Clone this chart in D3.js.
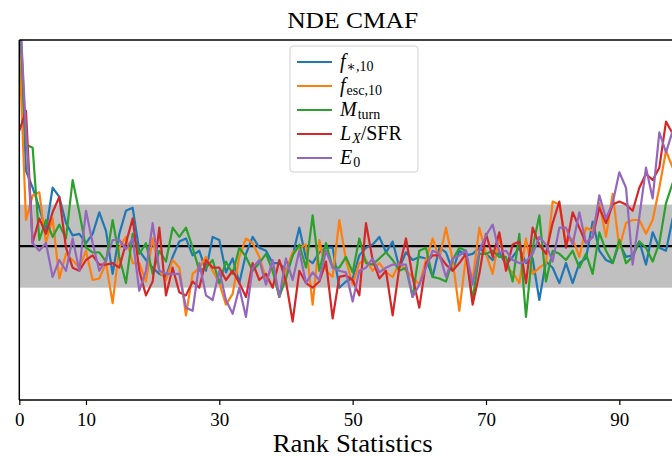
<!DOCTYPE html>
<html>
<head>
<meta charset="utf-8">
<script src="https://cdn.jsdelivr.net/npm/d3@7"></script>
<style>
  html, body { margin: 0; padding: 0; background: #fff; }
  svg { display: block; }
  text { font-family: "Liberation Serif", "DejaVu Serif", serif; fill: #000; }
</style>
</head>
<body>
<svg id="chart" width="672" height="456"></svg>
<script>
// Rank index of each bin
const ranks = d3.range(0, 100);

// Normalised rank-statistic histograms, one per parameter
const fStar = [2.50,1.49,1.38,1.25,1.10,1.38,1.32,1.15,1.07,1.08,1.02,1.08,1.22,1.10,0.82,1.08,1.23,1.25,0.97,0.91,
  0.86,0.82,0.80,0.93,1.03,1.05,0.94,0.97,0.84,1.06,1.04,0.83,0.92,0.76,0.95,1.06,0.99,0.97,0.89,0.89,
  0.84,0.94,1.12,0.92,0.89,0.96,0.99,0.99,0.73,0.77,0.79,0.94,0.99,1.01,1.06,0.96,1.03,0.86,0.96,0.91,
  0.93,0.92,0.80,0.99,0.96,0.84,0.97,0.94,0.95,0.99,0.95,0.91,0.96,0.88,0.93,0.99,0.89,0.92,0.65,0.90,
  0.86,0.76,0.89,0.76,0.89,0.92,1.16,0.97,0.91,0.89,1.02,0.93,0.94,1.03,0.88,1.09,0.99,0.97,1.18,1.25];
const fEsc = [2.30,1.17,1.33,1.35,1.02,1.18,0.79,0.95,0.91,0.86,0.97,0.78,0.79,0.89,0.63,0.99,1.06,0.89,0.89,0.77,
  1.05,0.84,0.78,0.91,0.86,0.55,0.82,0.86,0.93,0.84,0.76,0.62,0.69,0.93,1.05,1.02,0.93,0.79,0.86,0.67,
  0.84,0.96,0.99,1.01,0.62,1.04,0.84,0.80,1.17,0.91,0.75,0.89,0.91,0.84,0.89,0.83,0.80,0.89,0.84,0.80,
  0.75,0.91,1.05,0.92,1.12,0.91,0.58,0.93,0.78,1.12,0.95,0.82,1.06,0.86,0.83,0.76,1.05,0.82,0.86,0.89,
  1.29,1.27,1.03,1.05,0.93,1.12,1.10,1.28,1.06,1.34,0.99,1.15,1.17,1.17,1.08,1.17,1.38,1.62,1.51,1.45];
const mTurn = [2.60,1.66,1.64,1.04,1.17,1.06,1.14,1.05,1.43,1.22,0.99,0.96,0.96,0.90,1.17,0.93,0.76,1.08,0.95,1.02,
  0.82,0.97,0.90,1.12,1.06,1.12,0.99,0.84,0.86,0.91,0.76,0.90,0.82,0.99,0.93,0.84,0.89,0.95,0.84,0.67,
  0.79,0.94,1.01,0.86,1.20,0.84,1.02,0.86,0.86,0.93,0.83,1.05,0.89,0.88,0.92,0.96,0.91,0.84,0.86,0.67,
  0.97,0.99,0.80,0.79,0.77,0.91,0.99,0.97,0.65,0.95,0.95,0.97,0.93,0.93,0.77,1.08,0.54,0.99,1.20,0.77,
  0.97,0.95,0.91,0.97,0.86,0.95,0.82,1.09,0.97,0.89,1.04,0.89,0.93,1.03,0.99,0.90,1.02,1.28,1.41,1.50];
const lxSfr = [1.75,1.88,1.02,1.18,1.08,1.22,1.32,0.99,0.86,0.84,0.91,0.94,0.88,0.88,0.89,0.86,1.02,1.18,0.84,0.68,
  0.77,1.12,0.68,0.86,0.70,0.68,0.77,0.73,0.91,0.86,0.86,0.78,0.84,0.76,0.67,0.89,0.78,0.82,0.73,0.91,
  0.77,0.51,0.84,0.76,0.73,0.77,0.90,0.53,0.80,0.81,0.78,0.68,1.15,0.91,0.79,0.84,0.55,0.86,1.05,0.80,
  0.60,0.89,0.94,0.94,0.88,0.84,0.89,0.95,0.62,0.82,1.08,0.93,1.09,0.84,1.01,1.03,0.76,1.12,1.01,0.95,
  1.15,1.29,0.99,1.22,1.12,1.02,1.06,1.25,1.15,1.27,1.29,1.27,1.23,1.38,1.47,1.43,1.51,1.81,1.73,1.65];
const e0 = [2.60,1.75,1.02,0.97,1.02,0.80,0.91,0.84,1.05,0.84,1.23,1.02,0.84,0.91,1.04,1.04,0.98,1.05,0.71,0.84,
  1.15,0.84,0.82,0.82,0.82,0.60,0.58,0.89,0.68,0.65,0.84,0.65,0.56,0.73,0.54,0.86,0.91,0.75,0.91,0.67,
  0.92,0.78,0.97,0.76,0.83,0.78,0.97,0.86,0.84,0.83,0.64,0.84,0.86,0.92,0.83,0.86,0.88,0.88,0.88,0.67,
  0.75,0.86,0.97,0.95,0.80,0.92,0.94,0.97,0.75,0.97,1.07,1.14,0.96,0.97,0.91,0.89,0.90,0.95,1.06,1.01,
  0.90,1.12,1.12,1.01,1.22,1.02,1.06,1.33,1.18,1.28,1.48,1.38,0.88,1.19,1.51,1.31,1.74,1.61,1.75,1.80];

// Expected (uniform) level and its 1-sigma band
const expected = 1.0;
const bandHalf = 0.27;

const xTicks = [0, 10, 30, 50, 70, 90];
const seriesNames = ["fStar", "fEsc", "mTurn", "lxSfr", "e0"];
const seriesColors = ["#1f77b4", "#ff7f0e", "#2ca02c", "#d62728", "#9467bd"];
const seriesValues = [fStar, fEsc, mTurn, lxSfr, e0];

const svg = d3.select("#chart");
const plotLeft = 19.3, plotTop = 40, plotBottom = 400, plotRight = 686;

const x = d3.scaleLinear().domain([0, 100]).range([plotLeft, plotRight]);
const y = d3.scaleLinear().domain([0, 2.34]).range([plotBottom, plotTop]);

svg.append("defs").append("clipPath").attr("id", "plotArea")
  .append("rect").attr("x", plotLeft).attr("y", plotTop)
  .attr("width", plotRight - plotLeft).attr("height", plotBottom - plotTop);

const plot = svg.append("g").attr("clip-path", "url(#plotArea)");

// 1-sigma band around the expected level
plot.append("rect")
  .attr("x", plotLeft).attr("width", plotRight - plotLeft)
  .attr("y", y(expected + bandHalf))
  .attr("height", y(expected - bandHalf) - y(expected + bandHalf))
  .attr("fill", "#c0c0c0");

// Expected level
plot.append("line")
  .attr("x1", plotLeft).attr("x2", plotRight)
  .attr("y1", y(expected)).attr("y2", y(expected))
  .attr("stroke", "#000").attr("stroke-width", 2.4);

const line = d3.line().x((d, i) => x(ranks[i])).y(d => y(d));

seriesValues.forEach((vals, k) => {
  plot.append("path")
    .datum(vals)
    .attr("class", "series " + seriesNames[k])
    .attr("d", line)
    .attr("fill", "none")
    .attr("stroke", seriesColors[k])
    .attr("stroke-width", 2.2)
    .attr("stroke-linejoin", "round");
});

// Frame
const frame = svg.append("g").attr("stroke", "#000").attr("stroke-width", 1.5).attr("fill", "none");
frame.append("line").attr("x1", plotLeft).attr("x2", plotRight).attr("y1", plotTop).attr("y2", plotTop);
frame.append("line").attr("x1", plotLeft).attr("x2", plotLeft).attr("y1", plotTop).attr("y2", plotBottom);
frame.append("line").attr("x1", plotLeft).attr("x2", plotRight).attr("y1", plotBottom).attr("y2", plotBottom);

// X axis
const xAxis = d3.axisBottom(x).tickValues(xTicks).tickSize(5).tickPadding(8).tickFormat(d3.format("d"));
const gx = svg.append("g").attr("transform", `translate(0,${plotBottom})`).call(xAxis);
gx.select(".domain").remove();
gx.selectAll(".tick line").attr("stroke", "#000").attr("stroke-width", 1.2);
gx.selectAll(".tick text")
  .style("font-family", '"Liberation Serif", serif')
  .style("font-size", "19px").attr("fill", "#000");

// Axis label and title
svg.append("text")
  .attr("x", x(50)).attr("y", 452)
  .attr("text-anchor", "middle")
  .attr("textLength", 160).attr("lengthAdjust", "spacingAndGlyphs")
  .style("font-size", "25px")
  .text("Rank Statistics");

svg.append("text")
  .attr("x", x(50)).attr("y", 28)
  .attr("text-anchor", "middle")
  .attr("textLength", 131).attr("lengthAdjust", "spacingAndGlyphs")
  .style("font-size", "24px")
  .text("NDE CMAF");

// Legend
const legend = svg.append("g").attr("transform", "translate(290,46)");
legend.append("rect")
  .attr("x", 0).attr("y", 0).attr("width", 128).attr("height", 126)
  .attr("rx", 3).attr("ry", 3)
  .attr("fill", "#fff").attr("fill-opacity", 0.8)
  .attr("stroke", "#d0d0d0").attr("stroke-width", 1);

const labelParts = [
  [["f", "i", 0], ["∗,10", "r", 1]],
  [["f", "i", 0], ["esc,10", "r", 1]],
  [["M", "i", 0], ["turn", "r", 1]],
  [["L", "i", 0], ["X", "i", 1], ["/SFR", "r", 0]],
  [["E", "i", 0], ["0", "r", 1]]
];

labelParts.forEach((parts, k) => {
  const cy = 16 + k * 24;
  legend.append("line")
    .attr("x1", 7).attr("x2", 42).attr("y1", cy).attr("y2", cy)
    .attr("stroke", seriesColors[k]).attr("stroke-width", 2.2);
  const t = legend.append("text")
    .attr("x", 50).attr("y", cy + 6)
    .style("font-size", "20px");
  parts.forEach(([str, style, sub]) => {
    t.append("tspan")
      .attr("baseline-shift", sub ? "-22%" : null)
      .attr("dx", sub ? 1 : null)
      .style("font-style", style === "i" ? "italic" : "normal")
      .style("font-size", sub ? "14px" : "20px")
      .text(str);
  });
});
</script>
</body>
</html>
